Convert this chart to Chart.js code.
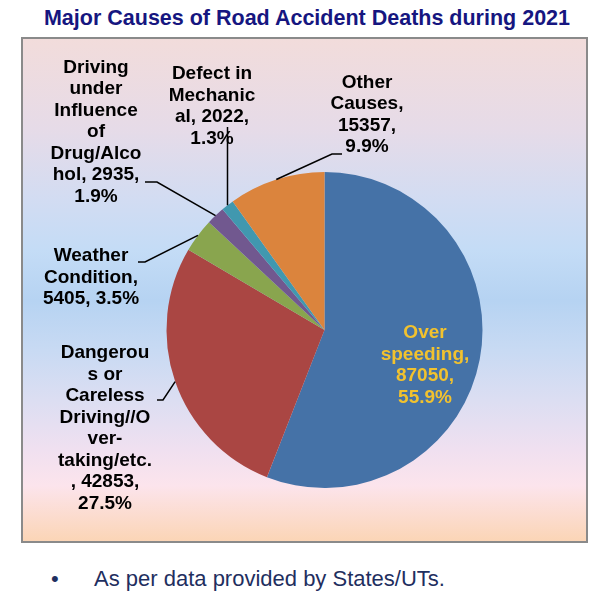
<!DOCTYPE html>
<html>
<head>
<meta charset="utf-8">
<script src="https://cdn.jsdelivr.net/npm/chart.js@4"></script>
<style>
  html, body { margin: 0; padding: 0; background: #ffffff; overflow: hidden; }
  body { width: 604px; height: 600px; position: relative; font-family: "Liberation Sans", Arial, sans-serif; }
  #titulo {
    position: absolute; left: 20px; width: 574px; top: 5px;
    text-align: center; white-space: nowrap;
    font-weight: bold; font-size: 21.5px; line-height: 26px; color: #161680;
  }
  #caixa {
    position: absolute; left: 21px; top: 37px; width: 567px; height: 506px;
    box-sizing: border-box; border: 2px solid #8a8a8a;
    background: linear-gradient(to bottom,
      #f2dcdb 0%, #e6dbe8 18%, #d2dcf2 32%, #c4dcf6 42%, #b6d3f2 52%,
      #c8daf3 62%, #dcdef2 72%, #f0e0f0 82%, #fce4ec 89%, #fbd5b6 100%);
  }
  #pizza { position: absolute; left: 0; top: 0; }
  #bullet { position: absolute; left: 51px; top: 564px; font-size: 22px; line-height: 30px; color: #1f2f5f; }
  #nota { position: absolute; left: 94px; top: 564px; font-size: 22px; line-height: 30px; color: #1f2f5f; white-space: nowrap; }
</style>
</head>
<body>
<div id="titulo">Major Causes of Road Accident Deaths during 2021</div>
<div id="caixa"><canvas id="pizza" width="563" height="502"></canvas></div>
<div id="bullet">•</div>
<div id="nota">As per data provided by States/UTs.</div>

<script>
const causas = ['Over speeding', 'Dangerous or Careless Driving//Over-taking/etc.', 'Weather Condition',
                'Driving under Influence of Drug/Alcohol', 'Defect in Mechanical', 'Other Causes'];
const mortes = [87050, 42853, 5405, 2935, 2022, 15357];
const percentuais = ['55.9%', '27.5%', '3.5%', '1.9%', '1.3%', '9.9%'];
const cores = ['#4572a7', '#aa4643', '#89a54e', '#71588f', '#4198af', '#db843d'];

// como o Excel quebrou os rótulos
const linhasRotulo = [
  ['Over', 'speeding,', '87050,', '55.9%'],
  ['Dangerou', 's or', 'Careless', 'Driving//O', 'ver-', 'taking/etc.', ', 42853,', '27.5%'],
  ['Weather', 'Condition,', '5405, 3.5%'],
  ['Driving', 'under', 'Influence', 'of', 'Drug/Alco', 'hol, 2935,', '1.9%'],
  ['Defect in', 'Mechanic', 'al, 2022,', '1.3%'],
  ['Other', 'Causes,', '15357,', '9.9%']
];

// posição dos rótulos e das linhas de chamada (px no canvas)
const posRotulo = [
  { x: 402, y: 326.5, cor: '#f2c22e' },
  { x: 82, y: 389.5, cotovelo: [140, 361], fim: [134, 361] },
  { x: 68, y: 238.5, cotovelo: [122, 223], fim: [115, 223] },
  { x: 73, y: 93, cotovelo: [134, 143], fim: [122, 143] },
  { x: 189, y: 67.5, cotovelo: [204.5, 88], fim: [204.5, 88] },
  { x: 344, y: 76, cotovelo: [309, 115], fim: [319, 115] }
];

const rotulos = {
  id: 'rotulos',
  afterDatasetsDraw(chart) {
    const ctx = chart.ctx;
    const arcos = chart.getDatasetMeta(0).data;

    ctx.save();
    arcos.forEach((arco, i) => {
      const p = posRotulo[i];
      const { x, y, startAngle, endAngle, outerRadius } = arco.getProps(['x', 'y', 'startAngle', 'endAngle', 'outerRadius'], true);

      if (p.cotovelo) {
        const meio = (startAngle + endAngle) / 2;
        ctx.beginPath();
        ctx.moveTo(x + Math.cos(meio) * outerRadius, y + Math.sin(meio) * outerRadius);
        ctx.lineTo(p.cotovelo[0], p.cotovelo[1]);
        ctx.lineTo(p.fim[0], p.fim[1]);
        ctx.strokeStyle = '#000000';
        ctx.lineWidth = 1.5;
        ctx.stroke();
      }

      const linhas = linhasRotulo[i];
      const alt = 21.5;
      ctx.font = 'bold 19px "Liberation Sans", Arial, sans-serif';
      ctx.fillStyle = p.cor || '#000000';
      ctx.textAlign = 'center';
      ctx.textBaseline = 'middle';
      linhas.forEach((t, k) => {
        ctx.fillText(t, p.x, p.y + (k - (linhas.length - 1) / 2) * alt);
      });
    });
    ctx.restore();
  }
};

new Chart(document.getElementById('pizza'), {
  type: 'pie',

  data: {
    labels: causas,

    datasets: [{
      data: mortes,
      backgroundColor: cores,
      borderWidth: 0
    }]
  },

  options: {
    responsive: false,
    animation: false,

    layout: {
      padding: { left: 143.5, top: 133, right: 103.5, bottom: 53 }
    },

    plugins: {
      legend: { display: false },
      tooltip: { enabled: false }
    }
  },

  plugins: [rotulos]
});
</script>
</body>
</html>
